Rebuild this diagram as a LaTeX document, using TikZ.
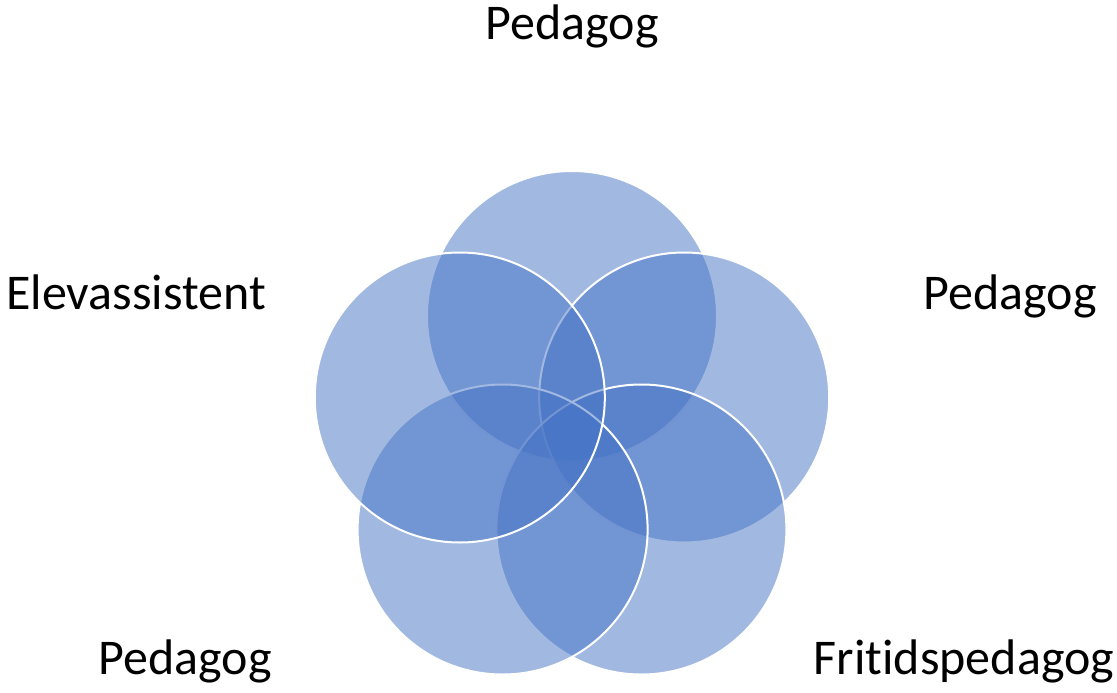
\documentclass[tikz,border=0pt]{standalone}
\usepackage{fontspec}
\setmainfont{Carlito}[Ligatures=NoCommon]
\usepackage{tikz}
\definecolor{petalblue}{HTML}{4472C4}

\begin{document}
\begin{tikzpicture}[x=1pt,y=-1pt]
\tikzstyle{petal}=[circle,draw=white,line width=2pt,fill=petalblue,fill opacity=0.5,draw opacity=1,minimum size=290pt,inner sep=0pt]
\tikzstyle{role}=[anchor=base,inner sep=0pt,font=\fontsize{50}{60}\selectfont]
\useasboundingbox (0,0) rectangle (1117,693);
\node [petal] (ptop) at (572,316) {};
\node [petal] (pright) at (684.2,397.5) {};
\node [petal] (pbotright) at (641.4,529.5) {};
\node [petal] (pbotleft) at (502.6,529.5) {};
\node [petal] (pleft) at (459.8,397.5) {};
\node [role] (ltop) at (572,40) {Pedagog};
\node [role] (lright) at (1010,309) {Pedagog};
\node [role] (lbotright) at (964,674) {Fritidspedagog};
\node [role] (lbotleft) at (185,674) {Pedagog};
\node [role] (lleft) at (136,309) {Elevassistent};
\end{tikzpicture}
\end{document}
